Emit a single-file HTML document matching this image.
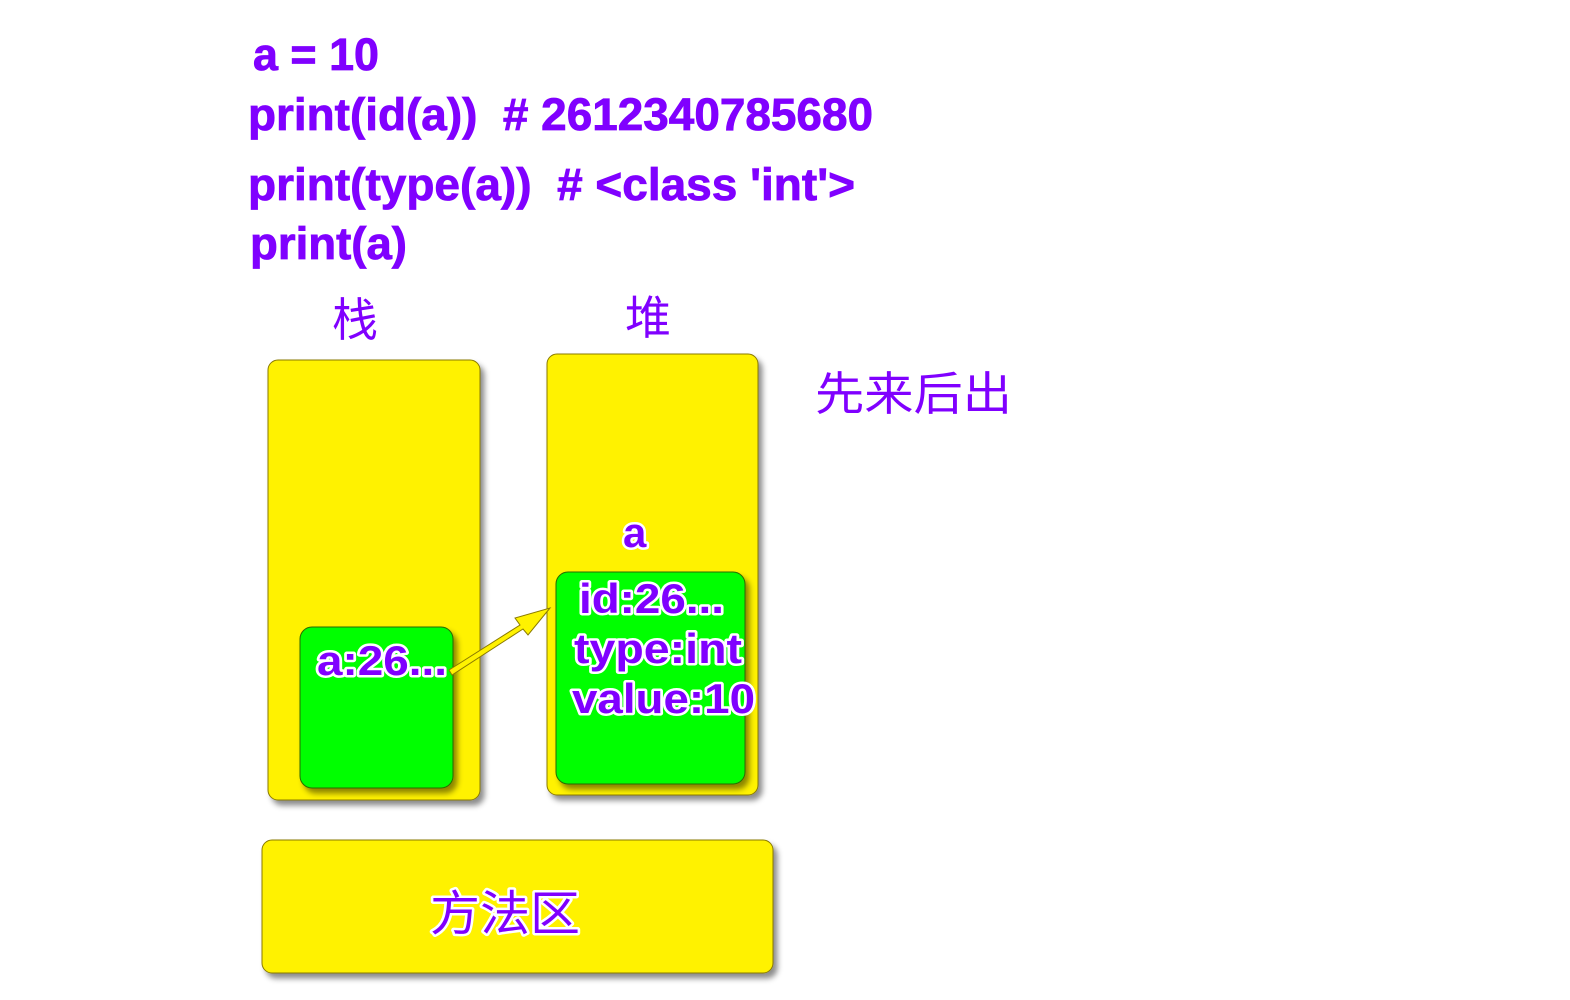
<!DOCTYPE html>
<html><head><meta charset="utf-8"><style>html,body{margin:0;padding:0;background:#fff}svg{display:block}</style></head>
<body>
<svg width="1570" height="1000" viewBox="0 0 1570 1000" xmlns="http://www.w3.org/2000/svg">
<defs>
<filter id="sh" x="-10%" y="-10%" width="130%" height="130%"><feDropShadow dx="4" dy="5" stdDeviation="3" flood-color="#000" flood-opacity="0.45"/></filter>
</defs>
<g font-family="Liberation Sans, sans-serif" font-weight="bold" fill="#8000ff" stroke="#8000ff" stroke-width="0.8" font-size="45">
<text x="253" y="70" textLength="126" lengthAdjust="spacingAndGlyphs">a = 10</text>
<text x="248" y="130" textLength="625" lengthAdjust="spacingAndGlyphs" xml:space="preserve">print(id(a))  # 2612340785680</text>
<text x="248" y="200" textLength="607" lengthAdjust="spacingAndGlyphs" xml:space="preserve">print(type(a))  # &lt;class 'int'&gt;</text>
<text x="250" y="259" textLength="157" lengthAdjust="spacingAndGlyphs">print(a)</text>
</g>
<g font-family="Liberation Sans, Noto Sans CJK SC, sans-serif" fill="#8000ff" font-size="46">
<text x="332" y="336" textLength="46" lengthAdjust="spacingAndGlyphs">栈</text>
<text x="625" y="334" textLength="46" lengthAdjust="spacingAndGlyphs">堆</text>
<text x="815" y="410" textLength="197" lengthAdjust="spacingAndGlyphs">先来后出</text>
</g>
<rect x="268" y="360" width="212" height="440" rx="10" fill="#fff200" stroke="#8a7a00" stroke-width="1" filter="url(#sh)"/>
<rect x="547" y="354" width="211" height="441" rx="10" fill="#fff200" stroke="#8a7a00" stroke-width="1" filter="url(#sh)"/>
<rect x="262" y="840" width="511" height="133" rx="10" fill="#fff200" stroke="#8a7a00" stroke-width="1" filter="url(#sh)"/>
<rect x="300" y="627" width="153" height="161" rx="12" fill="#00ff00" stroke="#2a6a00" stroke-width="1" filter="url(#sh)"/>
<rect x="556" y="572" width="189" height="212" rx="12" fill="#00ff00" stroke="#2a6a00" stroke-width="1" filter="url(#sh)"/>
<g fill="#fff200" stroke="#8a7a00" stroke-width="1">
<polygon points="449,670 520,625 515,618 550,608 528,635 523,629 452,675"/>
</g>
<g font-family="Liberation Sans, Noto Sans CJK SC, sans-serif" fill="#8000ff" stroke="#fff" stroke-width="5" paint-order="stroke" stroke-linejoin="round">
<text x="430" y="930" font-size="48" textLength="150" lengthAdjust="spacingAndGlyphs">方法区</text>
</g>
<g font-family="Liberation Sans, sans-serif" font-weight="bold" fill="#8000ff" stroke="#fff" stroke-width="5" paint-order="stroke" stroke-linejoin="round" font-size="42">
<text x="623" y="547">a</text>
<text x="317" y="675" textLength="130" lengthAdjust="spacingAndGlyphs">a:26...</text>
<text x="579" y="613" textLength="145" lengthAdjust="spacingAndGlyphs">id:26...</text>
<text x="574" y="663" textLength="168" lengthAdjust="spacingAndGlyphs">type:int</text>
<text x="572" y="713" textLength="183" lengthAdjust="spacingAndGlyphs">value:10</text>
</g>
</svg>
</body></html>
